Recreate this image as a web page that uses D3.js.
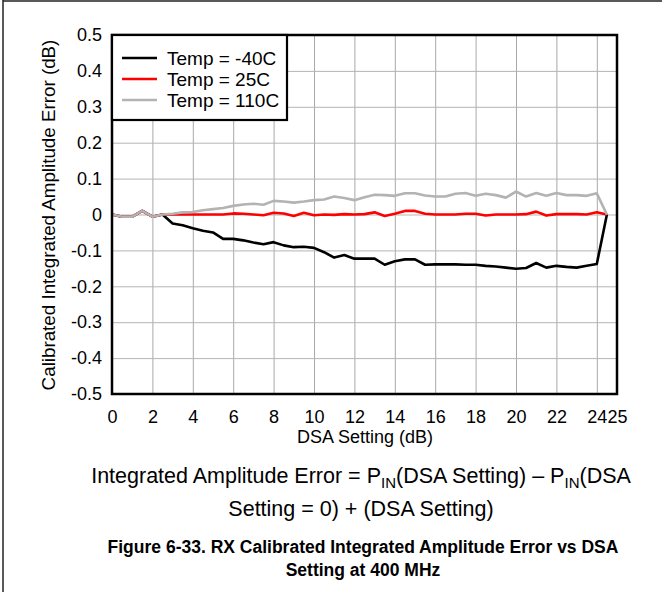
<!DOCTYPE html>
<html>
<head>
<meta charset="utf-8">
<script src="https://cdn.jsdelivr.net/npm/d3@7"></script>
<style>
  body { margin: 0; background: #fff; }
  svg { display: block; font-family: "Liberation Sans", Arial, sans-serif; }
</style>
</head>
<body>
<svg id="chart" width="662" height="592"></svg>
<script>
// ---- data ----
const dsa = d3.range(0, 25, 0.5); // 0 .. 24.5 dB in 0.5 dB steps
const tempM40 = [0, -0.006, -0.006, 0.01, -0.006, 0,
  -0.025, -0.03, -0.038, -0.045, -0.05, -0.068, -0.068, -0.072, -0.078, -0.083,
  -0.077, -0.086, -0.091, -0.09, -0.093, -0.105, -0.12, -0.113, -0.123, -0.123,
  -0.123, -0.14, -0.13, -0.125, -0.125, -0.14, -0.139, -0.139, -0.139, -0.14,
  -0.14, -0.143, -0.145, -0.148, -0.151, -0.149, -0.135, -0.148, -0.143, -0.146,
  -0.148, -0.143, -0.138, 0];
const temp25 = [0, -0.006, -0.006, 0.01, -0.006, 0,
  0, 0, 0, 0, 0, 0, 0.003, 0.002, 0, -0.002,
  0.005, 0.003, -0.004, 0.005, -0.002, 0, -0.001, 0.001, 0, 0.001,
  0.006, -0.004, 0.002, 0.01, 0.01, 0.002, 0, 0, 0, 0.002,
  0.002, -0.003, 0, 0, 0, 0.001, 0.008, -0.003, 0.001, 0.001,
  0.001, 0, 0.006, 0];
const temp110 = [0, -0.006, -0.006, 0.01, -0.006, 0,
  0.002, 0.006, 0.007, 0.012, 0.015, 0.018, 0.024, 0.028, 0.03, 0.027,
  0.038, 0.036, 0.033, 0.036, 0.04, 0.042, 0.05, 0.046, 0.04, 0.048,
  0.055, 0.054, 0.052, 0.059, 0.059, 0.053, 0.05, 0.05, 0.058, 0.06,
  0.052, 0.058, 0.054, 0.047, 0.064, 0.05, 0.06, 0.052, 0.06, 0.054,
  0.054, 0.052, 0.059, 0];
const seriesNames = ["Temp = -40C", "Temp = 25C", "Temp = 110C"];
const seriesColors = ["#000000", "#ff0000", "#b3b3b3"];
const xTicks = [0, 2, 4, 6, 8, 10, 12, 14, 16, 18, 20, 22, 24, 25];
const yTicks = [0.5, 0.4, 0.3, 0.2, 0.1, 0, -0.1, -0.2, -0.3, -0.4, -0.5];
const yTickLabels = ["0.5", "0.4", "0.3", "0.2", "0.1", "0", "-0.1", "-0.2", "-0.3", "-0.4", "-0.5"];
const xTitle = "DSA Setting (dB)";
const yTitle = "Calibrated Integrated Amplitude Error (dB)";

// ---- layout ----
const svg = d3.select("#chart");
const L = 112, R = 617, T = 35, B = 394;
const x = d3.scaleLinear().domain([0, 25]).range([L, R]);
const y = d3.scaleLinear().domain([-0.5, 0.5]).range([B, T]);

// outer figure border (left + top)
svg.append("line").attr("x1", 3).attr("x2", 3).attr("y1", 0).attr("y2", 592)
  .attr("stroke", "#222").attr("stroke-width", 1.5);
svg.append("line").attr("x1", 3).attr("x2", 662).attr("y1", 1).attr("y2", 1)
  .attr("stroke", "#222").attr("stroke-width", 1.5);

// gridlines
const gx = svg.append("g").attr("transform", `translate(0,${B})`)
  .call(d3.axisBottom(x).tickValues(xTicks).tickSize(-(B - T)).tickFormat(""));
gx.select(".domain").remove();
gx.selectAll("line").attr("stroke", "#a9a9a9").attr("stroke-width", 1);

const gy = svg.append("g").attr("transform", `translate(${L},0)`)
  .call(d3.axisLeft(y).tickValues(yTicks).tickSize(-(R - L)).tickFormat(""));
gy.select(".domain").remove();
gy.selectAll("line").attr("stroke", "#b5b5b5").attr("stroke-width", 1);

// tick labels
const xl = svg.append("g").attr("transform", `translate(0,${B})`)
  .call(d3.axisBottom(x).tickValues(xTicks).tickSize(0).tickPadding(16).tickFormat(d => String(d)));
xl.select(".domain").remove();
xl.selectAll("text").attr("font-size", 18).attr("fill", "#000")
  .attr("font-family", "'Liberation Sans', Arial, sans-serif");

const yl = svg.append("g").attr("transform", `translate(${L},0)`)
  .call(d3.axisLeft(y).tickValues(yTicks).tickSize(0).tickPadding(10)
    .tickFormat((d, i) => yTickLabels[i]));
yl.select(".domain").remove();
yl.selectAll("text").attr("font-size", 18).attr("fill", "#000")
  .attr("font-family", "'Liberation Sans', Arial, sans-serif");

// series lines
const seriesData = [tempM40, temp25, temp110];
const line = d3.line().x((d, i) => x(dsa[i])).y(d => y(d));
seriesData.forEach((s, k) => {
  svg.append("path").datum(s).attr("d", line)
    .attr("fill", "none").attr("stroke", seriesColors[k])
    .attr("stroke-width", 2.6).attr("stroke-linejoin", "round");
});

// plot frame
svg.append("rect").attr("x", L).attr("y", T).attr("width", R - L).attr("height", B - T)
  .attr("fill", "none").attr("stroke", "#000").attr("stroke-width", 2.5);

// legend
const lg = svg.append("g");
lg.append("rect").attr("x", L).attr("y", T).attr("width", 175).attr("height", 85)
  .attr("fill", "#fff").attr("stroke", "#000").attr("stroke-width", 2.2);
seriesNames.forEach((n, k) => {
  const yy = 58 + k * 21;
  lg.append("line").attr("x1", 122).attr("x2", 157).attr("y1", yy).attr("y2", yy)
    .attr("stroke", seriesColors[k]).attr("stroke-width", 2.6);
  lg.append("text").attr("x", 167).attr("y", yy).attr("dy", "0.36em")
    .attr("font-size", 19).attr("fill", "#000").text(n);
});

// axis titles
svg.append("text").attr("x", 365).attr("y", 443).attr("text-anchor", "middle")
  .attr("font-size", 18).attr("fill", "#000").text(xTitle);
svg.append("text").attr("transform", "translate(55,215) rotate(-90)")
  .attr("text-anchor", "middle").attr("font-size", 18.8).attr("fill", "#000").text(yTitle);

// caption
const c1 = svg.append("text").attr("x", 361).attr("y", 483).attr("text-anchor", "middle")
  .attr("font-size", 21.5).attr("fill", "#000");
c1.append("tspan").text("Integrated Amplitude Error = P");
c1.append("tspan").attr("font-size", 15).attr("dy", 5).text("IN");
c1.append("tspan").attr("dy", -5).text("(DSA Setting) \u2013 P");
c1.append("tspan").attr("font-size", 15).attr("dy", 5).text("IN");
c1.append("tspan").attr("dy", -5).text("(DSA");
svg.append("text").attr("x", 361).attr("y", 516).attr("text-anchor", "middle")
  .attr("font-size", 21.5).attr("fill", "#000").text("Setting = 0) + (DSA Setting)");
svg.append("text").attr("x", 363).attr("y", 553).attr("text-anchor", "middle")
  .attr("font-size", 17.5).attr("font-weight", "bold").attr("fill", "#000")
  .text("Figure 6-33. RX Calibrated Integrated Amplitude Error vs DSA");
svg.append("text").attr("x", 363).attr("y", 576).attr("text-anchor", "middle")
  .attr("font-size", 17.5).attr("font-weight", "bold").attr("fill", "#000")
  .text("Setting at 400 MHz");
</script>
</body>
</html>
